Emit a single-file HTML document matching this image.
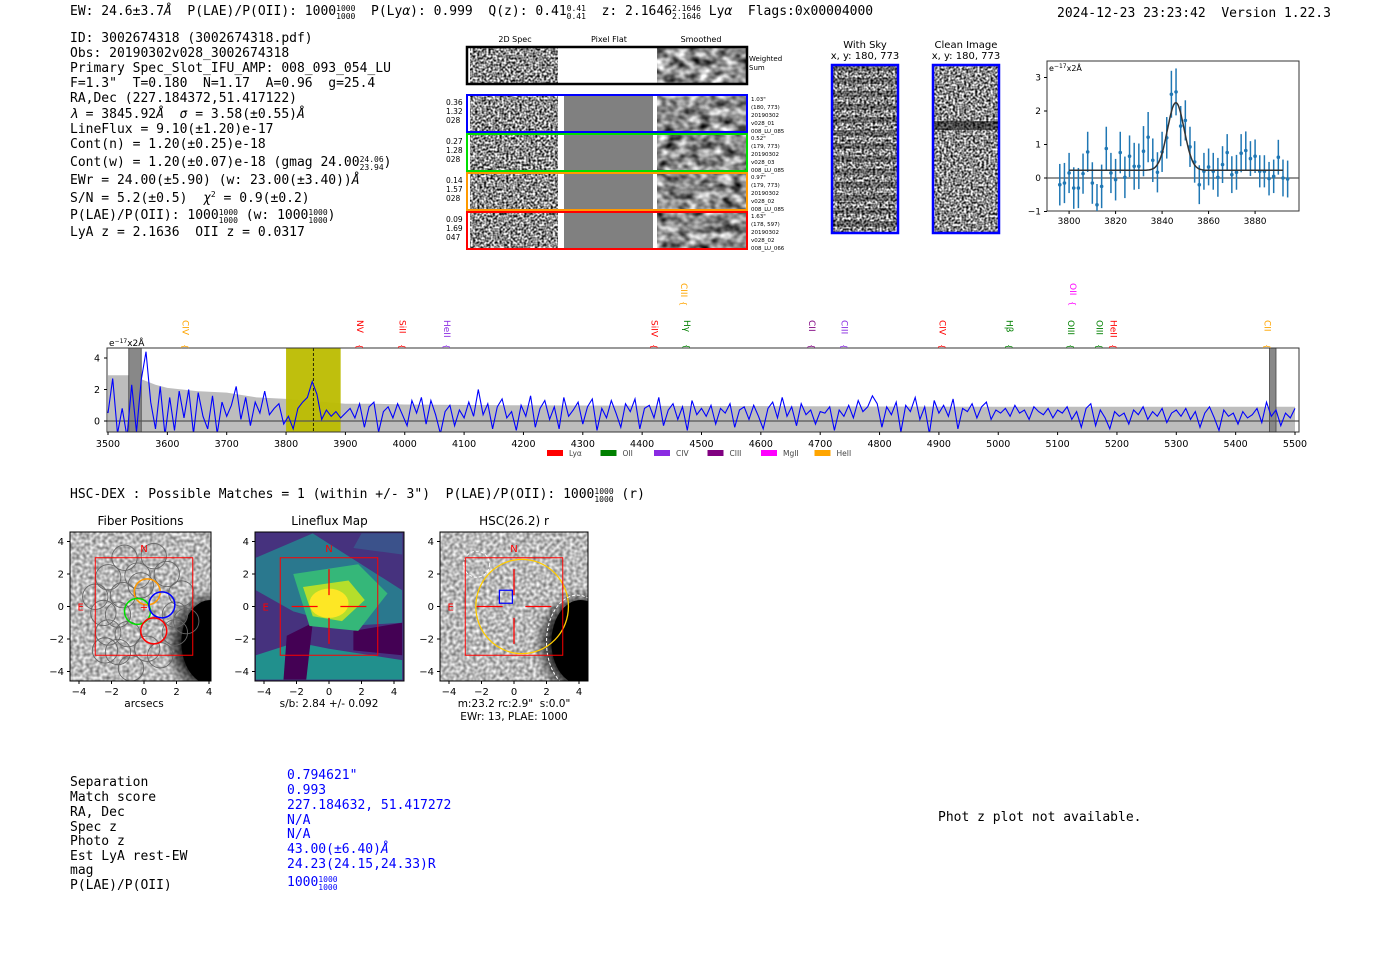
<!DOCTYPE html>
<html><head><meta charset="utf-8"><style>
html,body{margin:0;padding:0;background:#fff;}
svg{display:block;}
text{white-space:pre;}
.m{font-family:"DejaVu Sans Mono","Liberation Mono",monospace;font-size:13px;fill:#000;}
.s{font-family:"DejaVu Sans","Liberation Sans",sans-serif;fill:#000;}
</style></head><body>
<svg id="root" width="1400" height="953" viewBox="0 0 1400 953" xmlns="http://www.w3.org/2000/svg" xml:space="preserve">
<defs>
<filter id="noise" x="0" y="0" width="100%" height="100%" color-interpolation-filters="sRGB"><feTurbulence type="fractalNoise" baseFrequency="0.45" numOctaves="1" seed="4"/><feColorMatrix type="matrix" values="1 0 0 0 0  1 0 0 0 0  1 0 0 0 0  0 0 0 0 1"/><feComponentTransfer><feFuncR type="linear" slope="2.2" intercept="-0.55"/><feFuncG type="linear" slope="2.2" intercept="-0.55"/><feFuncB type="linear" slope="2.2" intercept="-0.55"/></feComponentTransfer></filter>
<filter id="smooth" x="0" y="0" width="100%" height="100%" color-interpolation-filters="sRGB"><feTurbulence type="fractalNoise" baseFrequency="0.09 0.12" numOctaves="2" seed="7"/><feColorMatrix type="matrix" values="1 0 0 0 0  1 0 0 0 0  1 0 0 0 0  0 0 0 0 1"/><feComponentTransfer><feFuncR type="linear" slope="1.5" intercept="-0.2"/><feFuncG type="linear" slope="1.5" intercept="-0.2"/><feFuncB type="linear" slope="1.5" intercept="-0.2"/></feComponentTransfer></filter>
<filter id="light" x="0" y="0" width="100%" height="100%" color-interpolation-filters="sRGB"><feTurbulence type="fractalNoise" baseFrequency="0.3" numOctaves="1" seed="2"/><feColorMatrix type="matrix" values="1 0 0 0 0  1 0 0 0 0  1 0 0 0 0  0 0 0 0 1"/><feComponentTransfer><feFuncR type="linear" slope="0.9" intercept="0.28"/><feFuncG type="linear" slope="0.9" intercept="0.28"/><feFuncB type="linear" slope="0.9" intercept="0.28"/></feComponentTransfer></filter>
<pattern id="stripes" width="10" height="13" patternUnits="userSpaceOnUse"><rect width="10" height="6" fill="#000" opacity="0.3"/></pattern>
<clipPath id="specclip"><rect x="107" y="348" width="1192" height="84"/></clipPath>
<clipPath id="fitclip"><rect x="1047" y="61" width="252" height="150"/></clipPath>
<clipPath id="p1"><rect x="70" y="532" width="141" height="149"/></clipPath>
<clipPath id="p2"><rect x="255" y="532" width="149" height="149"/></clipPath>
<clipPath id="p3"><rect x="440" y="532" width="148" height="149"/></clipPath>
<radialGradient id="dark" cx="0.5" cy="0.5" r="0.5"><stop offset="0.55" stop-color="#000"/><stop offset="1" stop-color="#000" stop-opacity="0"/></radialGradient>
</defs>

<text class="m" x="70" y="15">EW: 24.6±3.7<tspan font-style="italic">Å</tspan>  P(LAE)/P(OII): 1000<tspan font-size="8" dy="-4">1000</tspan><tspan font-size="8" dx="-19.3" dy="8">1000</tspan><tspan dy="-4">  P(Ly</tspan><tspan font-style="italic">α</tspan>): 0.999  Q(z): 0.41<tspan font-size="8" dy="-4">0.41</tspan><tspan font-size="8" dx="-19.3" dy="8">0.41</tspan><tspan dy="-4">  z: 2.1646</tspan><tspan font-size="8" dy="-4">2.1646</tspan><tspan font-size="8" dx="-28.9" dy="8">2.1646</tspan><tspan dy="-4"> Ly</tspan><tspan font-style="italic">α</tspan>  Flags:0x00004000</text>
<text class="m" x="1057" y="17">2024-12-23 23:23:42  Version 1.22.3</text>

<g class="m">
<text x="70" y="42">ID: 3002674318 (3002674318.pdf)</text>
<text x="70" y="57">Obs: 20190302v028_3002674318</text>
<text x="70" y="72">Primary Spec_Slot_IFU_AMP: 008_093_054_LU</text>
<text x="70" y="87">F=1.3"  T=0.180  N=1.17  A=0.96  g=25.4</text>
<text x="70" y="102">RA,Dec (227.184372,51.417122)</text>
<text x="70" y="118"><tspan font-style="italic">λ</tspan> = 3845.92<tspan font-style="italic">Å</tspan>  <tspan font-style="italic">σ</tspan> = 3.58(±0.55)<tspan font-style="italic">Å</tspan></text>
<text x="70" y="133">LineFlux = 9.10(±1.20)e-17</text>
<text x="70" y="148">Cont(n) = 1.20(±0.25)e-18</text>
<text x="70" y="166">Cont(w) = 1.20(±0.07)e-18 (gmag 24.00<tspan font-size="8" dy="-4">24.06</tspan><tspan font-size="8" dx="-24.1" dy="8">23.94</tspan><tspan dy="-4">)</tspan></text>
<text x="70" y="184">EWr = 24.00(±5.90) (w: 23.00(±3.40))<tspan font-style="italic">Å</tspan></text>
<text x="70" y="202">S/N = 5.2(±0.5)  <tspan font-style="italic">χ</tspan><tspan font-size="8" dy="-5">2</tspan><tspan dy="5"> = 0.9(±0.2)</tspan></text>
<text x="70" y="219">P(LAE)/P(OII): 1000<tspan font-size="8" dy="-4">1000</tspan><tspan font-size="8" dx="-19.3" dy="8">1000</tspan><tspan dy="-4"> (w: 1000</tspan><tspan font-size="8" dy="-4">1000</tspan><tspan font-size="8" dx="-19.3" dy="8">1000</tspan><tspan dy="-4">)</tspan></text>
<text x="70" y="236">LyA z = 2.1636  OII z = 0.0317</text>
</g>

<g>
<text class="s" font-size="8" x="515" y="42" text-anchor="middle">2D Spec</text>
<text class="s" font-size="8" x="609" y="42" text-anchor="middle">Pixel Flat</text>
<text class="s" font-size="8" x="701" y="42" text-anchor="middle">Smoothed</text>
<g id="cutrows"></g>
</g>

<g>
<text class="s" font-size="10" x="865" y="48" text-anchor="middle">With Sky</text>
<text class="s" font-size="10" x="865" y="59" text-anchor="middle">x, y: 180, 773</text>
<rect x="832" y="65" width="66" height="168" filter="url(#noise)"/>
<rect x="832" y="65" width="66" height="168" fill="url(#stripes)"/>
<rect x="832" y="65" width="66" height="168" fill="none" stroke="#0000ff" stroke-width="2.5"/>
</g>
<g>
<text class="s" font-size="10" x="966" y="48" text-anchor="middle">Clean Image</text>
<text class="s" font-size="10" x="966" y="59" text-anchor="middle">x, y: 180, 773</text>
<rect x="933" y="65" width="66" height="168" filter="url(#noise)"/>
<rect x="933" y="121" width="66" height="9" fill="#000" opacity="0.5"/>
<rect x="933" y="65" width="66" height="168" fill="none" stroke="#0000ff" stroke-width="2.5"/>
</g>

<g id="fitplot"></g>
<g id="specplot"></g>

<text class="m" x="70" y="498">HSC-DEX : Possible Matches = 1 (within +/- 3")  P(LAE)/P(OII): 1000<tspan font-size="8" dy="-4">1000</tspan><tspan font-size="8" dx="-19.3" dy="8">1000</tspan><tspan dy="-4"> (r)</tspan></text>

<g id="panels"></g>

<g class="m">
<text x="70" y="786">Separation</text><text x="70" y="801">Match score</text><text x="70" y="816">RA, Dec</text><text x="70" y="831">Spec z</text><text x="70" y="845">Photo z</text><text x="70" y="860">Est LyA rest-EW</text><text x="70" y="874">mag</text><text x="70" y="889">P(LAE)/P(OII)</text>
<text x="287" y="779" style="fill:#0000ff">0.794621"</text><text x="287" y="794" style="fill:#0000ff">0.993</text><text x="287" y="809" style="fill:#0000ff">227.184632, 51.417272</text><text x="287" y="824" style="fill:#0000ff">N/A</text><text x="287" y="838" style="fill:#0000ff">N/A</text><text x="287" y="853" style="fill:#0000ff">43.00(±6.40)<tspan font-style="italic">Å</tspan></text><text x="287" y="868" style="fill:#0000ff">24.23(24.15,24.33)R</text><text x="287" y="886" style="fill:#0000ff">1000<tspan font-size="8" dy="-4">1000</tspan><tspan font-size="8" dx="-19.3" dy="8">1000</tspan></text>
</g>
<text class="m" x="938" y="821">Phot z plot not available.</text>
</svg>

<script>
const NS='http://www.w3.org/2000/svg';
function mk(parent,tag,attrs,txt){const e=document.createElementNS(NS,tag);for(const k in attrs)e.setAttribute(k,attrs[k]);if(txt!==undefined)e.textContent=txt;parent.appendChild(e);return e;}

const fitWave=[3796,3798,3800,3802,3804,3806,3808,3810,3812,3814,3816,3818,3820,3822,3824,3826,3828,3830,3832,3834,3836,3838,3840,3842,3844,3846,3848,3850,3852,3854,3856,3858,3860,3862,3864,3866,3868,3870,3872,3874,3876,3878,3880,3882,3884,3886,3888,3890,3892,3894];
const fitFlux=[-0.2,-0.15,0.15,-0.3,-0.3,0.13,0.78,-0.15,-0.8,-0.25,0.88,0.15,-0.05,0.76,0.02,0.65,0.35,0.35,0.8,1.22,0.53,0.17,0.78,1.2,2.5,2.57,1.55,1.72,0.93,0.48,-0.2,0.2,0.33,0.2,0.02,0.4,0.76,0.1,0.17,0.74,0.82,0.58,0.65,0.2,0.2,-0.02,0.05,0.62,0.0,-0.03];
const fitErr=[0.62,0.6,0.6,0.62,0.6,0.6,0.6,0.62,0.62,0.65,0.65,0.6,0.62,0.62,0.62,0.62,0.7,0.68,0.75,0.75,0.65,0.6,0.6,0.62,0.7,0.7,0.6,0.6,0.6,0.62,0.58,0.55,0.55,0.55,0.58,0.55,0.55,0.55,0.52,0.57,0.57,0.52,0.5,0.48,0.48,0.5,0.5,0.52,0.55,0.55];
const fitParams=[3845.92,3.58,2.02,0.23];
const fitXTicks=[3800,3820,3840,3860,3880];
const fitYTicks=[-1,0,1,2,3];

(function(){
 const g=document.getElementById('fitplot');
 const X=w=>1047+(w-3790.5)*2.325, Y=v=>178-33.5*v;
 mk(g,'rect',{x:1047,y:61,width:252,height:150,fill:'#fff',stroke:'#333','stroke-width':1});
 mk(g,'line',{x1:1047,x2:1299,y1:Y(0),y2:Y(0),stroke:'#555','stroke-width':1.2});
 const c=mk(g,'g',{'clip-path':'url(#fitclip)'});
 fitWave.forEach((w,i)=>{
  const e=mk(c,'line',{x1:X(w),x2:X(w),y1:Y(fitFlux[i]-fitErr[i]),y2:Y(fitFlux[i]+fitErr[i]),stroke:'#1f77b4','stroke-width':1.5});
  
  
  const p=mk(c,'circle',{cx:X(w),cy:Y(fitFlux[i]),r:1.8,fill:'#1f77b4'});
  
  
 });
 let d='';for(let w=3800;w<=3892;w+=0.5){const v=fitParams[3]+fitParams[2]*Math.exp(-0.5*((w-fitParams[0])/fitParams[1])**2);d+=(d?'L':'M')+X(w).toFixed(1)+','+Y(v).toFixed(1);}
 const f=mk(c,'path',{d:d,fill:'none',stroke:'#333','stroke-width':1.5});
 
 
 fitXTicks.forEach(t=>{mk(g,'line',{x1:X(t),x2:X(t),y1:211,y2:214,stroke:'#000'});mk(g,'text',{x:X(t),y:224,'text-anchor':'middle','font-size':9,class:'s'},t);});
 fitYTicks.forEach(t=>{mk(g,'line',{x1:1044,x2:1047,y1:Y(t),y2:Y(t),stroke:'#000'});mk(g,'text',{x:1041,y:Y(t)+3,'text-anchor':'end','font-size':9,class:'s'},t===-1?'−1':t);});
 const u=mk(g,'text',{x:1049,y:71,'font-size':8,class:'s'},'e');mk(u,'tspan',{dy:-3,'font-size':6},'−17');mk(u,'tspan',{dy:3},'x2Å');
})();

const specStart=3500, specStep=8;
const specFlux=[0.5,2.7,-0.8,0.8,-1,2.3,-0.7,2.6,4.4,1.2,-0.5,2.2,-0.9,
1.5,-0.6,1.9,0.2,2.0,-0.8,1.8,0.3,-0.5,1.6,-0.8,1.2,0.3,
1.0,2.2,0.1,1.5,-0.3,1.2,0.5,1.9,0.4,0.8,1.1,-0.2,
0.3,-0.5,0.8,1.2,1.5,2.5,1.7,0.1,0.7,0.3,0.6,0.2,0.5,
0.8,0.2,1.1,-0.4,0.9,1.2,-0.7,0.6,0.9,0.2,1.1,0.4,-0.3,
1.3,0.5,1.5,-0.2,1.3,0.4,-0.8,0.6,1.0,-0.3,0.7,0.2,
1.2,0.3,2.0,0.4,1.1,-0.5,0.9,1.4,0.2,0.6,-0.6,1.0,0.3,
1.6,-0.4,0.8,1.3,0.1,0.9,-0.5,1.5,0.3,0.7,1.2,-0.2,
0.9,1.4,-0.6,0.8,0.2,1.3,0.5,-0.4,1.1,0.6,1.4,-0.5,0.8,
1.0,0.2,1.5,-0.3,0.7,1.1,0.1,0.9,-0.6,1.3,0.4,0.8,
0.3,1.0,-0.2,0.8,0.5,1.1,-0.4,0.7,0.9,0.1,1.0,0.3,-0.5,
0.8,1.2,0.2,1.5,0.3,0.9,-0.3,1.1,0.4,0.7,-0.2,0.6,
0.5,0.9,-0.6,0.7,0.3,1.0,0.2,1.3,0.6,0.9,1.6,1.1,-0.4,
0.9,0.4,1.2,-0.7,1.0,0.6,1.5,0.1,0.9,-0.8,1.3,0.5,
1.0,0.3,1.4,-0.5,0.8,0.6,1.1,0.2,0.9,1.2,0.1,0.7,0.5,
0.8,0.3,1.0,0.5,0.7,0.1,0.9,0.6,0.4,0.8,0.2,0.7,
0.5,0.9,0.1,0.6,-0.4,0.8,1.1,-0.3,0.7,0.2,-0.5,0.6,0.3,
0.5,-0.2,0.7,0.4,0.9,0.1,0.6,0.3,0.8,-0.1,0.5,0.7,
0.3,0.8,0.1,0.6,-0.4,0.5,0.9,0.2,-0.6,0.7,0.3,0.5,-0.2,
0.6,0.2,0.4,0.8,-0.1,1.2,0.3,0.7,-0.3,0.5,0.2,0.8];
const errWave=[3500,3540,3560,3580,3600,3650,3700,3750,3800,3850,3900,3950,4000,4200,4500,5000,5500];
const errVal=[2.9,2.9,2.6,2.3,2.1,1.9,1.8,1.5,1.4,1.25,1.1,1.1,1.05,1.0,0.95,0.9,0.9];
const specXTicks=[3500,3600,3700,3800,3900,4000,4100,4200,4300,4400,4500,4600,4700,4800,4900,5000,5100,5200,5300,5400,5500];
const specYTicks=[0,2,4];
const lineNames=['CIV','NV','SiII','HeII','SiIV','CIII','Hγ','CII','CIII','CIV','Hβ','OII','OIII','OIII','HeII','CII'];
const lineWaves=[3630,3924,3995,4070,4420,4470,4475,4685,4740,4905,5018,5125,5122,5170,5193,5453];
const lineColors=['#ffa500','#ff0000','#ff0000','#8a2be2','#ff0000','#ffa500','#008000','#800080','#8a2be2','#ff0000','#008000','#ff00ff','#008000','#008000','#ff0000','#ffa500'];
const lineHigh=[0,0,0,0,0,1,0,0,0,0,0,1,0,0,0,0];
const legendNames=['Lyα','OII','CIV','CIII','MgII','HeII'];
const legendColors=['#ff0000','#008000','#8a2be2','#800080','#ff00ff','#ffa500'];

(function(){
 const g=document.getElementById('specplot');
 const X=w=>108+(w-3500)*0.5935, Y=v=>421-15.75*v;
 mk(g,'rect',{x:107,y:348,width:1192,height:84,fill:'#fff'});
 const c=mk(g,'g',{'clip-path':'url(#specclip)'});
 let up='',lo='';
 errWave.forEach((w,i)=>{up+=(i?'L':'M')+X(w).toFixed(1)+','+Y(errVal[i]).toFixed(1);});
 for(let i=errWave.length-1;i>=0;i--)lo+='L'+X(errWave[i]).toFixed(1)+','+Y(-errVal[i]).toFixed(1);
 const band=mk(c,'path',{d:up+lo+'Z',fill:'#bdbdbd'});
 
 
 const yb=mk(c,'rect',{x:X(3800),y:348,width:X(3892)-X(3800),height:84,fill:'#bcbc00',opacity:0.95});
 
 
 [[3535,3556],[5457,5468]].forEach(r=>{mk(c,'rect',{x:X(r[0]),y:348,width:X(r[1])-X(r[0]),height:84,fill:'#888',stroke:'#444','stroke-width':0.8});});
 mk(c,'line',{x1:107,x2:1299,y1:Y(0),y2:Y(0),stroke:'#555','stroke-width':1.2});
 mk(c,'line',{x1:X(3846),x2:X(3846),y1:348,y2:432,stroke:'#000','stroke-dasharray':'3,2','stroke-width':0.8});
 let d='';specFlux.forEach((v,i)=>{d+=(i?'L':'M')+X(specStart+i*specStep).toFixed(1)+','+Y(v).toFixed(1);});
 const fl=mk(c,'path',{d:d,fill:'none',stroke:'#0000ff','stroke-width':1.1});
 
 
 mk(g,'rect',{x:107,y:348,width:1192,height:84,fill:'none',stroke:'#333','stroke-width':1});
 specXTicks.forEach(t=>{mk(g,'line',{x1:X(t),x2:X(t),y1:432,y2:435,stroke:'#000'});mk(g,'text',{x:X(t),y:447,'text-anchor':'middle','font-size':9.5,class:'s'},t);});
 specYTicks.forEach(t=>{mk(g,'line',{x1:104,x2:107,y1:Y(t),y2:Y(t),stroke:'#000'});mk(g,'text',{x:100,y:Y(t)+3.5,'text-anchor':'end','font-size':9.5,class:'s'},t);});
 const u=mk(g,'text',{x:109,y:346,'font-size':9,class:'s'},'e');mk(u,'tspan',{dy:-3,'font-size':6},'−17');mk(u,'tspan',{dy:3},'x2Å');
 lineNames.forEach((n,i)=>{
  const x=X(lineWaves[i]),y0=lineHigh[i]?283:320;
  const t=mk(g,'text',{x:x,y:y0,transform:`rotate(90 ${x} ${y0})`,'font-size':9,class:'s','dominant-baseline':'middle',style:'fill:'+lineColors[i]},n);
  
  
  const yb2=y0+(lineHigh[i]?18:24);
  mk(g,'text',{x:x,y:yb2,transform:`rotate(90 ${x} ${yb2})`,'font-size':8,class:'s','dominant-baseline':'middle',style:'fill:'+lineColors[i]},'{');
 });
 legendNames.forEach((n,i)=>{
  const x=547+i*53.5;
  const r=mk(g,'rect',{x:x,y:450,width:16,height:6,fill:legendColors[i]});
  
  
  mk(g,'text',{x:x+22,y:456,'font-size':7.5,class:'s',style:'fill:#444'},n);
 });
})();

const rowColors=['#0000ff','#00dd00','#ff9900','#ff0000'];
const rowLeft=[['0.36','1.32','028'],['0.27','1.28','028'],['0.14','1.57','028'],['0.09','1.69','047']];
const rowRight=[['1.03"','(180, 773)','20190302','v028_01','008_LU_085'],['0.52"','(179, 773)','20190302','v028_03','008_LU_085'],['0.97"','(179, 773)','20190302','v028_02','008_LU_085'],['1.63"','(178, 597)','20190302','v028_02','008_LU_066']];
(function(){
 const g=document.getElementById('cutrows');
 mk(g,'rect',{x:470,y:47,width:88,height:37,filter:'url(#noise)'});
 mk(g,'rect',{x:657,y:47,width:89,height:37,filter:'url(#smooth)'});
 mk(g,'rect',{x:467,y:47,width:280,height:37,fill:'none',stroke:'#000','stroke-width':2.5});
 mk(g,'text',{x:749,y:61,'font-size':7,class:'s'},'Weighted');mk(g,'text',{x:749,y:70,'font-size':7,class:'s'},'Sum');
 rowColors.forEach((col,i)=>{
  const y=95+i*39;
  const r=mk(g,'g',{});
  
  
  mk(r,'rect',{x:470,y:y,width:88,height:37,filter:'url(#noise)'});
  mk(r,'rect',{x:564,y:y,width:89,height:37,fill:'#808080'});
  mk(r,'rect',{x:657,y:y,width:89,height:37,filter:'url(#smooth)'});
  mk(r,'rect',{x:467,y:y,width:280,height:37,fill:'none',stroke:col,'stroke-width':2});
  rowLeft[i].forEach((s,k)=>mk(r,'text',{x:446,y:y+10+k*9,'font-size':7.5,class:'s'},s));
  rowRight[i].forEach((s,k)=>mk(r,'text',{x:751,y:y+6+k*8,'font-size':5.5,class:'s'},s));
 });
})();

const panelTitles=['Fiber Positions','Lineflux Map','HSC(26.2) r'];
const panelX0=[144,329,514];
const panelLeft=[70,255,440];
const panelW=[141,149,148];
const axTicks=[-4,-2,0,2,4];
const fiberGrayX=[-1.2,0.6,-2.2,-0.4,1.4,-3.0,-1.3,2.3,-2.5,-1.6,1.9,-2.2,-1.0,1.9,-1.6,0.2,-0.8,1.0,2.6,-0.2,-2.4];
const fiberGrayY=[3.0,3.1,1.8,1.9,2.0,0.6,0.7,0.8,-0.4,-0.5,-0.5,-1.6,-1.7,-1.6,-2.8,-2.6,-3.8,-3.0,-0.9,1.3,-2.7];
const fiberColX=[0.2,-0.4,1.1,0.6];
const fiberColY=[0.9,-0.3,0.1,-1.5];
const fiberCols=['#ff9900','#00dd00','#0000ff','#ff0000'];
(function(){
 const root=document.getElementById('panels');
 const S=16.25;
 panelTitles.forEach((t,i)=>{
  const g=mk(root,'g',{});
  
  
  const x0=panelX0[i],y0=606.5,L=panelLeft[i],W=panelW[i];
  const X=v=>x0+v*S,Y=v=>y0-v*S;
  mk(g,'text',{x:L+W/2,y:525,'text-anchor':'middle','font-size':12,class:'s'},t);
  const c=mk(g,'g',{'clip-path':`url(#p${i+1})`});
  if(i===1){
   mk(c,'rect',{x:L,y:532,width:W,height:149,fill:'#46327e'});
   mk(c,'polygon',{points:`${X(-4.5)},${Y(3)} ${X(-1)},${Y(4.5)} ${X(4.5)},${Y(1)} ${X(4.5)},${Y(-1)} ${X(1)},${Y(-1.2)} ${X(-2.2)},${Y(-0.3)} ${X(-4.5)},${Y(1)}`,fill:'#2a788e'});
   mk(c,'polygon',{points:`${X(-4.5)},${Y(-3)} ${X(-2)},${Y(-2.2)} ${X(0)},${Y(-2.6)} ${X(4.5)},${Y(-3.3)} ${X(4.5)},${Y(-4.5)} ${X(-4.5)},${Y(-4.5)}`,fill:'#21908d'});
   mk(c,'polygon',{points:`${X(-2.6)},${Y(-1.8)} ${X(-1)},${Y(-1)} ${X(-1.4)},${Y(-4.5)} ${X(-2.8)},${Y(-4.5)}`,fill:'#440154'});
   mk(c,'polygon',{points:`${X(1.5)},${Y(-1.5)} ${X(4.5)},${Y(-1)} ${X(4.5)},${Y(-3)} ${X(1.5)},${Y(-2.7)}`,fill:'#440154'});
   mk(c,'polygon',{points:`${X(-2.2)},${Y(2)} ${X(1.8)},${Y(2.6)} ${X(3.6)},${Y(0.8)} ${X(1.8)},${Y(-1.5)} ${X(-1.2)},${Y(-1.2)}`,fill:'#35b779'});
   mk(c,'polygon',{points:`${X(-1.6)},${Y(1.2)} ${X(1.2)},${Y(1.6)} ${X(2.2)},${Y(0.4)} ${X(0.8)},${Y(-0.9)} ${X(-1.0)},${Y(-0.6)}`,fill:'#b5de2b'});
   mk(c,'ellipse',{cx:X(0),cy:Y(0.2),rx:S*1.2,ry:S*0.9,fill:'#fde725'});
   mk(c,'polygon',{points:`${X(2)},${Y(4.5)} ${X(4.5)},${Y(4.5)} ${X(4.5)},${Y(3.2)} ${X(1.5)},${Y(3.6)}`,fill:'#3b528b'});
  } else {
   mk(c,'rect',{x:L,y:532,width:W,height:149,filter:'url(#light)'});
   mk(c,'ellipse',{cx:X(4.2),cy:Y(-2.3),rx:S*3,ry:S*3.4,fill:'url(#dark)'});
   mk(c,'ellipse',{cx:X(4.1),cy:Y(-2.2),rx:S*1.8,ry:S*2.6,fill:'#000'});
  }
  if(i===0){
   fiberGrayX.forEach((fx,k)=>mk(c,'circle',{cx:X(fx),cy:Y(fiberGrayY[k]),r:S*0.78,fill:'none',stroke:'#666','stroke-width':0.9}));
   fiberColX.forEach((fx,k)=>{const e=mk(c,'circle',{cx:X(fx),cy:Y(fiberColY[k]),r:S*0.8,fill:'none',stroke:fiberCols[k],'stroke-width':1.5});});
   mk(c,'text',{x:X(0),y:Y(0)+4,'text-anchor':'middle','font-size':10,class:'s',style:'fill:#f00'},'+');
  }
  if(i===2){
   mk(c,'ellipse',{cx:X(0.5),cy:Y(0),rx:S*2.85,ry:S*2.9,fill:'none',stroke:'#ffcc00','stroke-width':1.3});
   mk(c,'rect',{x:X(-0.9),y:Y(1.0),width:S*0.8,height:S*0.8,fill:'none',stroke:'#0000ff','stroke-width':1.2});
   mk(c,'ellipse',{cx:X(-2.3),cy:Y(2.6),rx:S*0.8,ry:S*0.8,fill:'none',stroke:'#fff','stroke-dasharray':'3,2'});
   mk(c,'ellipse',{cx:X(3.9),cy:Y(-2.2),rx:S*1.9,ry:S*2.9,fill:'none',stroke:'#fff','stroke-dasharray':'3,2'});
  }
  mk(c,'rect',{x:X(-3),y:Y(3),width:6*S,height:6*S,fill:'none',stroke:'#f00','stroke-width':1});
  if(i>0){
   [[0.7,2.3],[-0.7,-2.3]].forEach(a=>{mk(c,'line',{x1:X(a[0]),x2:X(a[1]),y1:Y(0),y2:Y(0),stroke:'#f00','stroke-width':1.3});mk(c,'line',{y1:Y(a[0]),y2:Y(a[1]),x1:X(0),x2:X(0),stroke:'#f00','stroke-width':1.3});});
  }
  mk(c,'text',{x:X(0),y:Y(3.6)+4,'text-anchor':'middle','font-size':10,class:'s',style:'fill:#f00'},'N');
  mk(c,'text',{x:X(-3.9),y:Y(0)+4,'text-anchor':'middle','font-size':10,class:'s',style:'fill:#f00'},'E');
  mk(g,'rect',{x:L,y:532,width:W,height:149,fill:'none',stroke:'#000','stroke-width':1});
  axTicks.forEach(t=>{
   mk(g,'line',{x1:X(t),x2:X(t),y1:681,y2:684,stroke:'#000'});
   mk(g,'text',{x:X(t),y:695,'text-anchor':'middle','font-size':10,class:'s'},t<0?'−'+(-t):t);
   mk(g,'line',{x1:L-3,x2:L,y1:Y(t),y2:Y(t),stroke:'#000'});
   mk(g,'text',{x:L-6,y:Y(t)+3.5,'text-anchor':'end','font-size':10,class:'s'},t<0?'−'+(-t):t);
  });
 });
 mk(root,'text',{x:144,y:707,'text-anchor':'middle','font-size':10.5,class:'s'},'arcsecs');
 mk(root,'text',{x:329,y:707,'text-anchor':'middle','font-size':10.5,class:'s'},'s/b: 2.84 +/- 0.092');
 mk(root,'text',{x:514,y:707,'text-anchor':'middle','font-size':10.5,class:'s'},'m:23.2 rc:2.9"  s:0.0"');
 mk(root,'text',{x:514,y:720,'text-anchor':'middle','font-size':10.5,class:'s'},'EWr: 13, PLAE: 1000');
})();
</script>
</body></html>
